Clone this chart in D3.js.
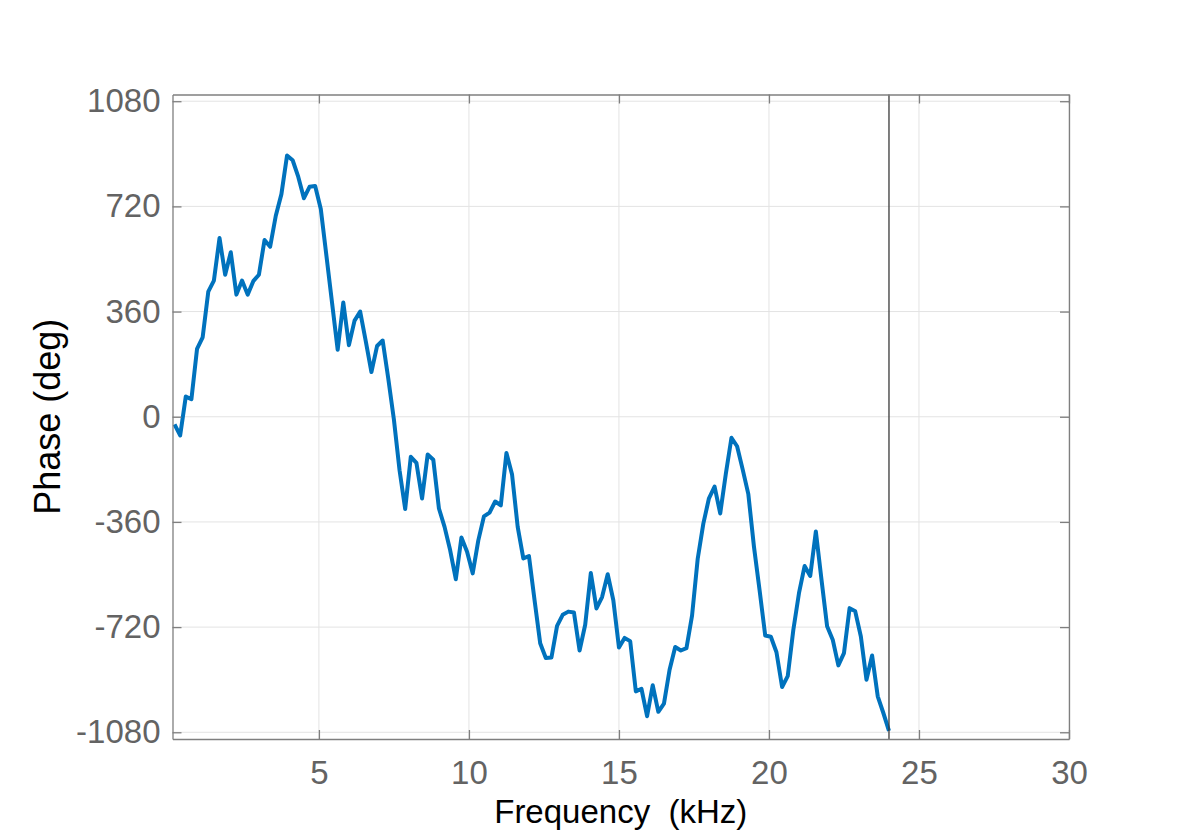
<!DOCTYPE html>
<html>
<head>
<meta charset="utf-8">
<script src="https://cdn.jsdelivr.net/npm/d3@7"></script>
<style>
  body { margin: 0; background: #fff; }
  svg { display: block; font-family: "Liberation Sans", Arial, sans-serif; }
</style>
</head>
<body>
<div id="chart"></div>
<script>
// fase em graus, um ponto por bin de 187.5 Hz (k = 1..128)
const binHz = 187.5;
const phaseDeg = [
  -26, -64, 69, 60, 232, 272, 428, 466, 612, 486,
  563, 418, 466, 418, 464, 486, 605, 582, 688, 762,
  894, 878, 821, 748, 787, 790, 711, 551, 390, 229,
  391, 245, 329, 360, 258, 153, 242, 261, 130, -10,
  -183, -316, -137, -158, -280, -129, -147, -314, -377, -457,
  -556, -413, -462, -536, -423, -341, -328, -290, -303, -124,
  -198, -377, -485, -477, -628, -775, -826, -824, -716, -678,
  -667, -670, -800, -712, -535, -656, -617, -539, -628, -790,
  -757, -768, -940, -931, -1025, -919, -1010, -982, -866, -788,
  -800, -792, -680, -486, -366, -279, -239, -331, -195, -72,
  -101, -181, -265, -445, -594, -749, -753, -806, -925, -888,
  -729, -604, -511, -545, -393, -557, -717, -763, -851, -809,
  -655, -666, -752, -900, -817, -957, -1014, -1075
];
const freqKHz = phaseDeg.map((_, i) => ((i + 1) * binHz) / 1000);

const xTicks = [5, 10, 15, 20, 25, 30];
const yTicks = [-1080, -720, -360, 0, 360, 720, 1080];
const xDomain = [0.12, 30];
const yDomain = [-1103, 1103];
const markerKHz = 24;

const W = 1182, H = 830;
const margin = { top: 94.5, right: 113, bottom: 91, left: 172.5 };

const svg = d3.select("#chart").append("svg").attr("width", W).attr("height", H);

const x = d3.scaleLinear().domain(xDomain).range([margin.left, W - margin.right]);
const y = d3.scaleLinear().domain(yDomain).range([H - margin.bottom, margin.top]);

const gridColor = "#e3e3e3";
const axisColor = "#7f7f7f";
const tickText = "#636363";

// grade
const grid = svg.append("g");
grid.selectAll("line.gx").data(xTicks).join("line")
  .attr("x1", (d) => x(d)).attr("x2", (d) => x(d))
  .attr("y1", y.range()[1]).attr("y2", y.range()[0])
  .attr("stroke", gridColor).attr("stroke-width", 1);
grid.selectAll("line.gy").data(yTicks).join("line")
  .attr("y1", (d) => y(d)).attr("y2", (d) => y(d))
  .attr("x1", x.range()[0]).attr("x2", x.range()[1])
  .attr("stroke", gridColor).attr("stroke-width", 1);

// linha de fase
const line = d3.line().x((d, i) => x(freqKHz[i])).y((d) => y(d));
svg.append("path")
  .datum(phaseDeg)
  .attr("d", line)
  .attr("fill", "none")
  .attr("stroke", "#0072bd")
  .attr("stroke-width", 4)
  .attr("stroke-linejoin", "round");

// marcador vertical em 24 kHz
svg.append("line")
  .attr("x1", x(markerKHz)).attr("x2", x(markerKHz))
  .attr("y1", y.range()[1]).attr("y2", y.range()[0])
  .attr("stroke", "#3a3a3a").attr("stroke-width", 1.3);

// eixos (caixa com ticks para dentro)
const tickLen = 9;
const fmt = (d) => (d < 0 ? "-" + Math.abs(d) : String(d));

const xAxisB = d3.axisBottom(x).tickValues(xTicks).tickSizeInner(-tickLen).tickSizeOuter(0).tickFormat(fmt).tickPadding(22);
const xAxisT = d3.axisTop(x).tickValues(xTicks).tickSizeInner(-tickLen).tickSizeOuter(0).tickFormat("");
const yAxisL = d3.axisLeft(y).tickValues(yTicks).tickSizeInner(-tickLen).tickSizeOuter(0).tickFormat(fmt).tickPadding(12);
const yAxisR = d3.axisRight(y).tickValues(yTicks).tickSizeInner(-tickLen).tickSizeOuter(0).tickFormat("");

function style(g) {
  g.select(".domain").attr("stroke", axisColor).attr("stroke-width", 1.3);
  g.selectAll(".tick line").attr("stroke", axisColor).attr("stroke-width", 1.3);
  g.selectAll(".tick text").attr("fill", tickText).attr("font-size", 33).attr("font-family", "Liberation Sans, Arial, sans-serif");
}

svg.append("g").attr("transform", `translate(0,${y.range()[0]})`).call(xAxisB).call(style);
svg.append("g").attr("transform", `translate(0,${y.range()[1]})`).call(xAxisT).call(style);
svg.append("g").attr("transform", `translate(${x.range()[0]},0)`).call(yAxisL).call(style);
svg.append("g").attr("transform", `translate(${x.range()[1]},0)`).call(yAxisR).call(style);

// rotulos
svg.append("text")
  .attr("x", (x.range()[0] + x.range()[1]) / 2)
  .attr("y", 823)
  .attr("text-anchor", "middle")
  .attr("font-size", 33)
  .attr("fill", "#000")
  .attr("xml:space", "preserve")
  .style("white-space", "pre")
  .text("Frequency  (kHz)");

svg.append("text")
  .attr("transform", `translate(60,${(y.range()[0] + y.range()[1]) / 2}) rotate(-90)`)
  .attr("text-anchor", "middle")
  .attr("font-size", 36)
  .attr("fill", "#000")
  .text("Phase (deg)");
</script>
</body>
</html>
